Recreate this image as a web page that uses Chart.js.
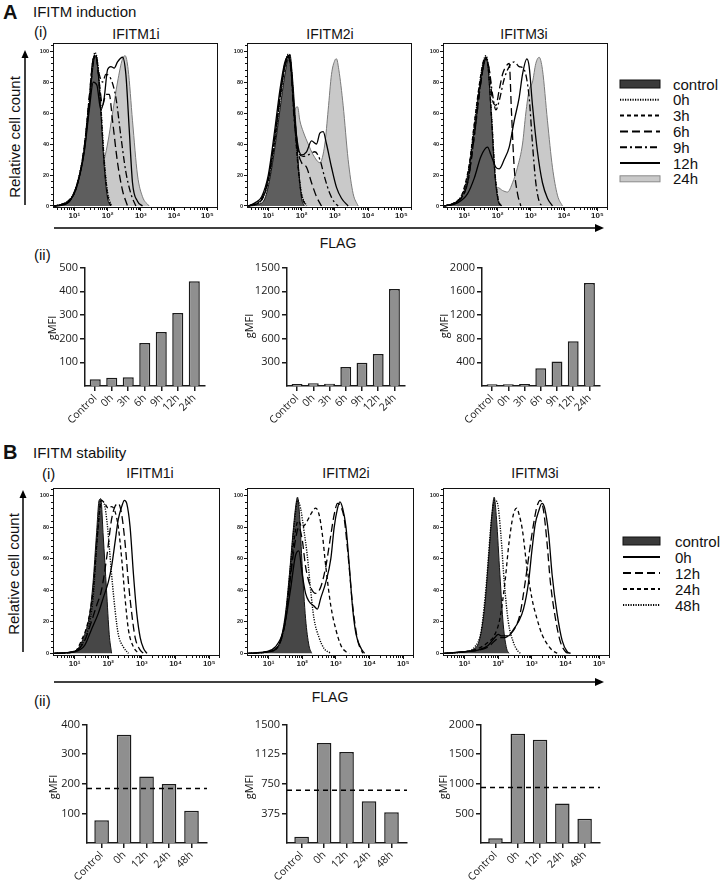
<!DOCTYPE html>
<html><head><meta charset="utf-8">
<script src="https://cdn.jsdelivr.net/npm/chart.js@4.4.1/dist/chart.umd.min.js"></script>
<style>
body{margin:0;background:#fff;width:720px;height:882px;position:relative;overflow:hidden;font-family:"Liberation Sans",Arial,sans-serif;color:#111}
.t{position:absolute;white-space:nowrap;line-height:1}
canvas{position:absolute}
svg{position:absolute;left:0;top:0}
</style></head><body>
<svg id="deco" width="720" height="882"></svg>
<script>
// ---------------- DATA ----------------
const histTickX = [1,2,3,4,5];
const histTickXLabels = ['10¹','10²','10³','10⁴','10⁵'];
const histTickY = [0,20,40,60,80,100];

const legendA = ['control','0h','3h','6h','9h','12h','24h'];
const legendB = ['control','0h','12h','24h','48h'];

// Panel A histograms: [log10 FLAG, relative count %]
const A1_control = [[0.4,0],[0.6,1],[0.8,3],[1.0,8],[1.15,18],[1.3,35],[1.45,65],[1.55,88],[1.63,97],[1.7,90],[1.8,60],[1.9,25],[2.0,5],[2.1,0]];
const A1_0h = [[0.4,0],[0.6,1],[0.8,3],[1.0,9],[1.15,20],[1.3,38],[1.45,68],[1.55,90],[1.62,99],[1.7,93],[1.8,64],[1.9,30],[2.0,9],[2.12,0]];
const A1_3h = [[0.4,0],[0.6,1],[0.8,3],[1.0,8],[1.15,19],[1.3,37],[1.45,66],[1.55,89],[1.63,98],[1.7,91],[1.8,62],[1.9,28],[2.0,7],[2.1,0]];
const A1_6h = [[0.4,0],[0.8,2],[1.1,15],[1.3,38],[1.45,70],[1.57,95],[1.65,97],[1.75,80],[1.85,65],[1.95,72],[2.05,72],[2.15,55],[2.3,28],[2.45,10],[2.6,0]];
const A1_9h = [[0.4,0],[0.8,2],[1.1,15],[1.3,38],[1.45,70],[1.57,95],[1.65,96],[1.75,85],[1.85,80],[1.95,85],[2.1,82],[2.25,70],[2.4,45],[2.55,22],[2.7,8],[2.85,0]];
const A1_12h = [[0.4,0],[0.8,2],[1.1,15],[1.3,35],[1.45,62],[1.57,80],[1.68,78],[1.8,62],[1.9,70],[2.0,88],[2.1,90],[2.2,89],[2.3,93],[2.45,96],[2.55,85],[2.65,50],[2.75,15],[2.9,3],[3.05,0]];
const A1_24h = [[1.0,0],[1.3,5],[1.6,14],[1.85,26],[2.0,40],[2.15,60],[2.3,80],[2.45,95],[2.53,97],[2.62,88],[2.75,55],[2.9,20],[3.05,6],[3.25,0]];

const A2_control = [[0.4,0],[0.7,1],[0.9,5],[1.05,18],[1.2,38],[1.35,62],[1.5,85],[1.6,96],[1.65,98],[1.72,85],[1.82,55],[1.92,22],[2.0,5],[2.08,0]];
const A2_0h = [[0.4,0],[0.8,4],[1.0,16],[1.2,42],[1.35,68],[1.5,90],[1.6,98],[1.68,92],[1.78,60],[1.9,25],[2.0,8],[2.15,0]];
const A2_3h = [[0.4,0],[0.8,4],[1.0,17],[1.2,44],[1.35,70],[1.5,91],[1.6,97],[1.68,90],[1.78,58],[1.9,24],[2.0,7],[2.15,0]];
const A2_6h = [[0.4,0],[0.8,4],[1.0,17],[1.2,45],[1.35,70],[1.5,92],[1.6,97],[1.68,90],[1.78,60],[1.9,35],[2.0,28],[2.15,25],[2.3,15],[2.45,6],[2.6,0]];
const A2_9h = [[0.4,0],[0.8,5],[1.0,18],[1.2,45],[1.35,70],[1.5,90],[1.6,95],[1.68,88],[1.78,55],[1.9,35],[2.05,32],[2.2,33],[2.4,35],[2.55,30],[2.7,18],[2.85,8],[3.0,2],[3.1,0]];
const A2_12h = [[0.4,0],[0.6,2],[0.8,6],[1.0,20],[1.2,50],[1.35,75],[1.5,93],[1.6,96],[1.68,90],[1.78,60],[1.9,38],[2.0,33],[2.15,35],[2.3,42],[2.45,40],[2.55,47],[2.65,48],[2.75,40],[2.9,25],[3.05,12],[3.2,5],[3.4,0]];
const A2_24h = [[0.8,0],[1.1,3],[1.35,12],[1.55,30],[1.7,50],[1.8,62],[1.88,64],[1.95,55],[2.05,48],[2.2,40],[2.35,33],[2.55,28],[2.7,40],[2.8,62],[2.9,85],[3.0,94],[3.05,95],[3.12,88],[3.25,65],[3.4,30],[3.55,8],[3.7,0]];

const A3_control = [[0.4,0],[0.7,2],[0.9,5],[1.0,10],[1.15,25],[1.3,50],[1.45,75],[1.57,92],[1.65,96],[1.72,88],[1.82,55],[1.92,20],[2.02,3],[2.1,0]];
const A3_0h = [[0.4,0],[0.7,2],[0.9,6],[1.0,11],[1.15,26],[1.3,52],[1.45,77],[1.57,93],[1.65,97],[1.72,90],[1.82,58],[1.92,22],[2.02,4],[2.12,0]];
const A3_3h = [[0.4,0],[0.7,2],[0.9,6],[1.0,12],[1.15,27],[1.3,53],[1.45,78],[1.57,93],[1.65,96],[1.72,89],[1.82,57],[1.92,22],[2.02,4],[2.12,0]];
const A3_6h = [[0.4,0],[0.8,3],[1.1,15],[1.3,45],[1.5,80],[1.65,95],[1.75,88],[1.85,68],[1.95,65],[2.05,75],[2.15,85],[2.25,90],[2.35,92],[2.42,60],[2.5,25],[2.6,8],[2.7,0]];
const A3_9h = [[0.4,0],[0.8,3],[1.1,15],[1.3,45],[1.5,80],[1.65,95],[1.75,88],[1.85,72],[1.95,62],[2.05,68],[2.2,82],[2.35,90],[2.5,93],[2.65,90],[2.8,88],[2.95,70],[3.05,40],[3.15,15],[3.25,3],[3.35,0]];
const A3_12h = [[0.4,0],[0.8,2],[1.1,8],[1.3,18],[1.5,32],[1.7,38],[1.8,33],[1.95,25],[2.05,24],[2.2,30],[2.35,38],[2.5,55],[2.65,70],[2.75,85],[2.88,95],[2.95,90],[3.05,65],[3.2,35],[3.35,15],[3.5,5],[3.65,0]];
const A3_24h = [[0.8,0],[1.2,2],[1.5,5],[1.8,9],[2.0,12],[2.15,10],[2.3,9],[2.45,15],[2.6,25],[2.75,40],[2.85,60],[2.95,75],[3.05,80],[3.15,92],[3.25,96],[3.35,88],[3.5,55],[3.65,25],[3.8,7],[3.95,0]];

// Panel B histograms
const B1_control = [[0.4,0],[0.9,1],[1.1,3],[1.3,12],[1.45,25],[1.55,45],[1.65,75],[1.73,97],[1.78,98],[1.85,75],[1.95,40],[2.03,12],[2.1,0]];
const B1_0h = [[0.4,0],[1.0,1],[1.3,5],[1.5,15],[1.7,25],[1.85,35],[2.0,45],[2.1,55],[2.2,70],[2.3,85],[2.4,93],[2.48,97],[2.55,95],[2.65,80],[2.75,50],[2.85,25],[2.95,10],[3.05,3],[3.15,0]];
const B1_12h = [[0.4,0],[1.0,1],[1.3,8],[1.5,20],[1.65,30],[1.8,40],[1.95,60],[2.1,85],[2.2,93],[2.3,95],[2.4,88],[2.5,70],[2.6,45],[2.7,25],[2.8,10],[2.95,2],[3.05,0]];
const B1_24h = [[0.4,0],[1.0,1],[1.2,8],[1.4,20],[1.55,40],[1.7,80],[1.8,97],[1.9,95],[2.0,92],[2.1,93],[2.2,90],[2.3,80],[2.4,60],[2.5,35],[2.6,15],[2.75,4],[2.9,0]];
const B1_48h = [[0.4,0],[1.0,1],[1.2,5],[1.4,15],[1.55,35],[1.68,75],[1.78,97],[1.88,95],[1.98,80],[2.08,55],[2.2,28],[2.3,12],[2.45,4],[2.6,0]];

const B2_control = [[0.4,0],[1.0,1],[1.2,3],[1.35,8],[1.5,25],[1.62,50],[1.72,75],[1.8,92],[1.86,99],[1.92,88],[2.0,55],[2.1,22],[2.2,5],[2.28,0]];
const B2_0h = [[0.4,0],[0.9,1],[1.2,4],[1.45,15],[1.65,40],[1.8,62],[1.9,65],[2.0,50],[2.1,38],[2.2,33],[2.35,30],[2.45,28],[2.55,35],[2.7,45],[2.85,60],[2.95,80],[3.05,92],[3.12,96],[3.2,92],[3.3,80],[3.4,55],[3.5,28],[3.6,12],[3.75,3],[3.85,0]];
const B2_12h = [[0.4,0],[1.0,1],[1.3,5],[1.5,20],[1.65,48],[1.8,72],[1.9,80],[2.0,72],[2.1,55],[2.25,42],[2.4,38],[2.55,42],[2.7,55],[2.85,75],[2.95,88],[3.05,95],[3.15,93],[3.25,85],[3.35,65],[3.5,30],[3.65,8],[3.8,0]];
const B2_24h = [[0.4,0],[1.0,1],[1.3,5],[1.5,22],[1.65,50],[1.78,75],[1.88,84],[2.0,80],[2.1,82],[2.25,88],[2.4,92],[2.5,88],[2.6,75],[2.7,55],[2.85,30],[3.0,15],[3.15,5],[3.3,1],[3.4,0]];
const B2_48h = [[0.4,0],[1.0,1],[1.3,5],[1.5,22],[1.65,55],[1.78,85],[1.86,97],[1.95,92],[2.05,78],[2.15,62],[2.25,40],[2.35,22],[2.5,10],[2.65,3],[2.85,0]];

const B3_control = [[0.4,0],[1.0,1],[1.3,3],[1.45,9],[1.6,30],[1.72,62],[1.82,90],[1.88,99],[1.95,85],[2.05,50],[2.15,18],[2.25,3],[2.32,0]];
const B3_0h = [[0.4,0],[1.0,1],[1.4,2],[1.7,5],[1.9,10],[2.0,12],[2.1,11],[2.3,11],[2.45,15],[2.6,20],[2.75,28],[2.9,45],[3.0,65],[3.1,82],[3.2,90],[3.3,95],[3.38,92],[3.5,75],[3.6,50],[3.75,25],[3.9,8],[4.05,1],[4.15,0]];
const B3_12h = [[0.4,0],[1.0,1],[1.4,2],[1.7,4],[1.9,8],[2.05,10],[2.2,10],[2.35,12],[2.5,16],[2.65,25],[2.8,45],[2.95,68],[3.05,82],[3.15,93],[3.25,97],[3.35,90],[3.45,70],[3.55,45],[3.7,22],[3.85,7],[4.0,1],[4.1,0]];
const B3_24h = [[0.4,0],[1.0,1],[1.4,3],[1.7,7],[1.9,12],[2.05,22],[2.2,45],[2.32,70],[2.45,88],[2.55,92],[2.62,88],[2.72,78],[2.85,55],[3.0,35],[3.15,22],[3.3,12],[3.45,6],[3.6,2],[3.75,0]];
const B3_48h = [[0.4,0],[1.0,1],[1.3,4],[1.5,15],[1.65,45],[1.8,85],[1.9,97],[1.98,95],[2.08,75],[2.18,45],[2.3,20],[2.45,7],[2.6,1],[2.68,0]];

// Bar charts (gMFI)
const catsA = ['Control','0h','3h','6h','9h','12h','24h'];
const gmfiA1 = [28,35,37,182,228,308,442];
const gmfiA2 = [25,35,30,241,296,404,1229];
const gmfiA3 = [30,30,35,300,415,755,1738];
const ticksA1 = [100,200,300,400,500];
const ticksA2 = [300,600,900,1200,1500];
const ticksA3 = [400,800,1200,1600,2000];

const catsB = ['Control','0h','12h','24h','48h'];
const gmfiB1 = [77,366,225,199,109];
const gmfiB2 = [80,1266,1153,530,391];
const gmfiB3 = [79,1847,1746,668,409];
const refB1 = 184, refB2 = 669, refB3 = 938;
const ticksB1 = [100,200,300,400];
const ticksB2 = [375,750,1125,1500];
const ticksB3 = [500,1000,1500,2000];

// ---------------- HELPERS ----------------
function txt(s, x, y, size, o = {}) {
  const d = document.createElement('div');
  d.className = 't'; d.textContent = s; d.style.fontSize = size + 'px';
  if (o.bold) d.style.fontWeight = 'bold';
  if (o.font) d.style.fontFamily = o.font;
  if (o.rot) { d.style.left = x + 'px'; d.style.top = y + 'px'; d.style.transform = 'translate(-50%,-50%) rotate(-90deg)'; }
  else if (o.center) { d.style.left = x + 'px'; d.style.top = (y - size / 2) + 'px'; d.style.transform = 'translateX(-50%)'; }
  else { d.style.left = x + 'px'; d.style.top = (y - size / 2) + 'px'; }
  document.body.appendChild(d);
}
const svg = document.getElementById('deco');
function svgEl(tag, attrs) {
  const e = document.createElementNS('http://www.w3.org/2000/svg', tag);
  for (const k in attrs) e.setAttribute(k, attrs[k]);
  svg.appendChild(e); return e;
}

function mk(rect, pad, config, plugins) {
  const cv = document.createElement('canvas');
  const W = rect.r - rect.l + pad.l + pad.r, H = rect.b - rect.t + pad.t + pad.b;
  cv.width = W; cv.height = H; cv.style.width = W + 'px'; cv.style.height = H + 'px';
  cv.style.left = (rect.l - pad.l) + 'px'; cv.style.top = (rect.t - pad.t) + 'px';
  document.body.appendChild(cv);
  const o = config.options;
  o.responsive = false; o.maintainAspectRatio = false; o.animation = false; o.devicePixelRatio = 1;
  o.layout = { padding: { top: pad.t, right: pad.r, left: 0, bottom: 0 } };
  o.scales.x.afterFit = s => { s.height = pad.b; };
  o.scales.y.afterFit = s => { s.width = pad.l; };
  o.plugins = Object.assign({ legend: { display: false }, tooltip: { enabled: false } }, o.plugins || {});
  return new Chart(cv, Object.assign(config, { plugins: plugins || [] }));
}

const frame = {
  id: 'frame',
  afterDraw(c) {
    const { ctx, chartArea: a, scales: { x, y } } = c;
    ctx.save(); ctx.strokeStyle = '#111'; ctx.lineWidth = 1;
    ctx.strokeRect(a.left + 0.5, a.top + 0.5, a.width - 1, a.height - 1);
    ctx.beginPath();
    for (let v = 0; v <= 104; v += 4) {
      if (v % 20 === 0) continue;
      const py = Math.round(y.getPixelForValue(v)) + 0.5;
      ctx.moveTo(a.left, py); ctx.lineTo(a.left - 2, py);
    }
    for (let d = 0; d < 6; d++) for (let k = 2; k < 10; k++) {
      const lv = d + Math.log10(k);
      if (lv < x.min || lv > x.max) continue;
      const px = Math.round(x.getPixelForValue(lv)) + 0.5;
      ctx.moveTo(px, a.bottom); ctx.lineTo(px, a.bottom + 2);
    }
    ctx.stroke(); ctx.restore();
  }
};

const styleA = {
  control: { fill: 'origin', backgroundColor: '#5e5e5e', borderColor: '#111', borderWidth: 1, order: 9 },
  '24h': { fill: 'origin', backgroundColor: '#c9c9c9', borderColor: '#7a7a7a', borderWidth: 1, order: 10 },
  '0h': { borderDash: [1.2, 1.3], borderWidth: 1.4, order: 5 },
  '3h': { borderDash: [4, 3], borderWidth: 1.3, order: 4 },
  '6h': { borderDash: [8, 4], borderWidth: 1.3, order: 3 },
  '9h': { borderDash: [7, 3, 2, 3], borderWidth: 1.3, order: 2 },
  '12h': { borderWidth: 1.3, order: 1 }
};
const styleB = {
  control: { fill: 'origin', backgroundColor: '#474747', borderColor: '#111', borderWidth: 1, order: 9 },
  '0h': { borderWidth: 1.3, order: 1 },
  '12h': { borderDash: [8, 4], borderWidth: 1.3, order: 2 },
  '24h': { borderDash: [4, 3], borderWidth: 1.3, order: 3 },
  '48h': { borderDash: [1.2, 1.3], borderWidth: 1.4, order: 4 }
};

function hist(rect, yMin, yMax, keys, curves, style) {
  const datasets = keys.map((k, i) => Object.assign({
    label: k,
    data: curves[i].map(p => ({ x: p[0], y: p[1] })),
    borderColor: '#000', fill: false, pointRadius: 0,
    cubicInterpolationMode: 'monotone'
  }, style[k]));
  mk(rect, { l: 16, t: 6, r: 6, b: 15 }, {
    type: 'line',
    data: { datasets },
    options: {
      scales: {
        x: {
          type: 'linear', min: 0.36, max: 5.32,
          afterBuildTicks: s => { s.ticks = histTickX.map(v => ({ value: v })); },
          ticks: { callback: v => histTickXLabels[histTickX.indexOf(v)], font: { size: 8, family: 'Liberation Sans', weight: 'bold' }, color: '#222', padding: 0, maxRotation: 0, autoSkip: false },
          grid: { drawOnChartArea: false, tickLength: 3, color: '#111' }, border: { display: false }
        },
        y: {
          type: 'linear', min: yMin, max: yMax,
          afterBuildTicks: s => { s.ticks = histTickY.map(v => ({ value: v })); },
          ticks: { font: { size: 5.5, family: 'Liberation Sans', weight: 'bold' }, color: '#222', padding: 1 },
          grid: { drawOnChartArea: false, tickLength: 3, color: '#111' }, border: { display: false }
        }
      }
    }
  }, [frame]);
}

function bars(rect, cats, vals, ymax, yticks, xmin, xmax, barPct, ref) {
  const datasets = [{
    type: 'bar', data: vals.map((v, i) => ({ x: i, y: v })),
    backgroundColor: '#8f8f8f', borderColor: '#1a1a1a', borderWidth: 1.5,
    barPercentage: barPct, categoryPercentage: 1, order: 2
  }];
  if (ref !== undefined) datasets.push({
    type: 'line', data: [{ x: xmin, y: ref }, { x: xmax, y: ref }],
    borderColor: '#000', borderWidth: 1.5, borderDash: [5, 4], pointRadius: 0, order: 1
  });
  mk(rect, { l: 40, t: 8, r: 6, b: 48 }, {
    type: 'bar',
    data: { datasets },
    options: {
      scales: {
        x: {
          type: 'linear', min: xmin, max: xmax, offset: false,
          afterBuildTicks: s => { s.ticks = cats.map((c, i) => ({ value: i })); },
          ticks: { callback: v => cats[v], minRotation: 45, maxRotation: 45, autoSkip: false, font: { size: 10.5, family: 'Open Sans' }, color: '#1a1a1a', padding: 1 },
          grid: { drawOnChartArea: false, offset: false, tickLength: 5, color: '#1a1a1a', lineWidth: 1.5 },
          border: { display: true, color: '#1a1a1a', width: 1.5 }
        },
        y: {
          type: 'linear', min: 0, max: ymax,
          afterBuildTicks: s => { s.ticks = yticks.map(v => ({ value: v })); },
          ticks: { callback: v => String(v), font: { size: 11, family: 'Open Sans' }, color: '#1a1a1a', padding: 2 },
          grid: { drawOnChartArea: false, tickLength: 5, color: '#1a1a1a', lineWidth: 1.5 },
          border: { display: true, color: '#1a1a1a', width: 1.5 }
        }
      }
    }
  });
}

// ---------------- PANEL A ----------------
txt('A', 3, 12, 20, { bold: true });
txt('IFITM induction', 33, 11, 15);
txt('(i)', 34, 31, 15);
txt('IFITM1i', 136, 34, 14, { center: true });
txt('IFITM2i', 330, 34, 14, { center: true });
txt('IFITM3i', 524, 34, 14, { center: true });
txt('Relative cell count', 14, 137, 15, { rot: true });
txt('FLAG', 338, 243, 14, { center: true });
txt('(ii)', 34, 254, 15);

hist({ l: 53, t: 43, r: 218, b: 208 }, -1.3, 105.2, legendA, [A1_control, A1_0h, A1_3h, A1_6h, A1_9h, A1_12h, A1_24h], styleA);
hist({ l: 247, t: 43, r: 412, b: 208 }, -1.3, 105.2, legendA, [A2_control, A2_0h, A2_3h, A2_6h, A2_9h, A2_12h, A2_24h], styleA);
hist({ l: 443, t: 43, r: 608, b: 208 }, -1.3, 105.2, legendA, [A3_control, A3_0h, A3_3h, A3_6h, A3_9h, A3_12h, A3_24h], styleA);

bars({ l: 85, t: 267, r: 205, b: 386 }, catsA, gmfiA1, 500, ticksA1, -0.62, 6.65, 0.67);
bars({ l: 287, t: 267, r: 405, b: 386 }, catsA, gmfiA2, 1500, ticksA2, -0.62, 6.65, 0.67);
bars({ l: 482, t: 267, r: 600, b: 386 }, catsA, gmfiA3, 2000, ticksA3, -0.62, 6.65, 0.67);
txt('gMFI', 51, 328, 11, { rot: true, font: 'Open Sans' });
txt('gMFI', 248, 326, 11, { rot: true, font: 'Open Sans' });
txt('gMFI', 443, 326, 11, { rot: true, font: 'Open Sans' });

// ---------------- PANEL B ----------------
txt('B', 3, 452, 20, { bold: true });
txt('IFITM stability', 33, 452, 15);
txt('(i)', 42, 473, 15);
txt('IFITM1i', 150, 473, 14, { center: true });
txt('IFITM2i', 346, 473, 14, { center: true });
txt('IFITM3i', 535, 473, 14, { center: true });
txt('Relative cell count', 13, 574, 15, { rot: true });
txt('FLAG', 330, 697, 14, { center: true });
txt('(ii)', 34, 700, 15);

hist({ l: 53, t: 488, r: 220, b: 656 }, -1.7, 104.8, legendB, [B1_control, B1_0h, B1_12h, B1_24h, B1_48h], styleB);
hist({ l: 247, t: 488, r: 414, b: 656 }, -1.7, 104.8, legendB, [B2_control, B2_0h, B2_12h, B2_24h, B2_48h], styleB);
hist({ l: 443, t: 488, r: 610, b: 656 }, -1.7, 104.8, legendB, [B3_control, B3_0h, B3_12h, B3_24h, B3_48h], styleB);

bars({ l: 87, t: 724, r: 207, b: 843 }, catsB, gmfiB1, 400, ticksB1, -0.65, 4.69, 0.65, refB1);
bars({ l: 287, t: 724, r: 407, b: 843 }, catsB, gmfiB2, 1500, ticksB2, -0.65, 4.69, 0.65, refB2);
bars({ l: 481, t: 724, r: 600, b: 843 }, catsB, gmfiB3, 2000, ticksB3, -0.65, 4.69, 0.65, refB3);
txt('gMFI', 52, 787, 11, { rot: true, font: 'Open Sans' });
txt('gMFI', 248, 787, 11, { rot: true, font: 'Open Sans' });
txt('gMFI', 442, 787, 11, { rot: true, font: 'Open Sans' });

// ---------------- DECORATION: arrows & legends ----------------
function arrowUp(x, y0, y1) {
  svgEl('line', { x1: x, y1: y0, x2: x, y2: y1 + 6, stroke: '#000', 'stroke-width': 1.5 });
  svgEl('polygon', { points: `${x - 3.5},${y1 + 8} ${x + 3.5},${y1 + 8} ${x},${y1}`, fill: '#000' });
}
function arrowRight(y, x0, x1) {
  svgEl('line', { x1: x0, y1: y, x2: x1 - 6, y2: y, stroke: '#000', 'stroke-width': 1.5 });
  svgEl('polygon', { points: `${x1 - 9},${y - 4} ${x1 - 9},${y + 4} ${x1},${y}`, fill: '#000' });
}
arrowUp(25, 205, 50);
arrowRight(228, 54, 604);
arrowUp(23, 652, 490);
arrowRight(682, 54, 604);

function legendSwatch(key, style, x0, x1, cy) {
  if (key === 'control') {
    svgEl('rect', { x: x0, y: cy - 4, width: x1 - x0, height: 8, fill: '#3a3a3a', stroke: '#111', 'stroke-width': 1 });
  } else if (key === '24h' && style === styleA) {
    svgEl('rect', { x: x0, y: cy - 3, width: x1 - x0, height: 6, fill: '#c9c9c9', stroke: '#8a8a8a', 'stroke-width': 1 });
  } else {
    const s = style[key];
    svgEl('line', { x1: x0, y1: cy, x2: x1, y2: cy, stroke: '#000', 'stroke-width': 2, 'stroke-dasharray': (s.borderDash || []).join(',') || 'none' });
  }
}
legendA.forEach((k, i) => {
  const cy = 84 + i * 15.8;
  legendSwatch(k, styleA, 620, 660, cy);
  txt(k, 673, cy, 15);
});
legendB.forEach((k, i) => {
  const cy = 541 + i * 16;
  legendSwatch(k, styleB, 623, 660, cy);
  txt(k, 675, cy, 15);
});
</script>
</body></html>
